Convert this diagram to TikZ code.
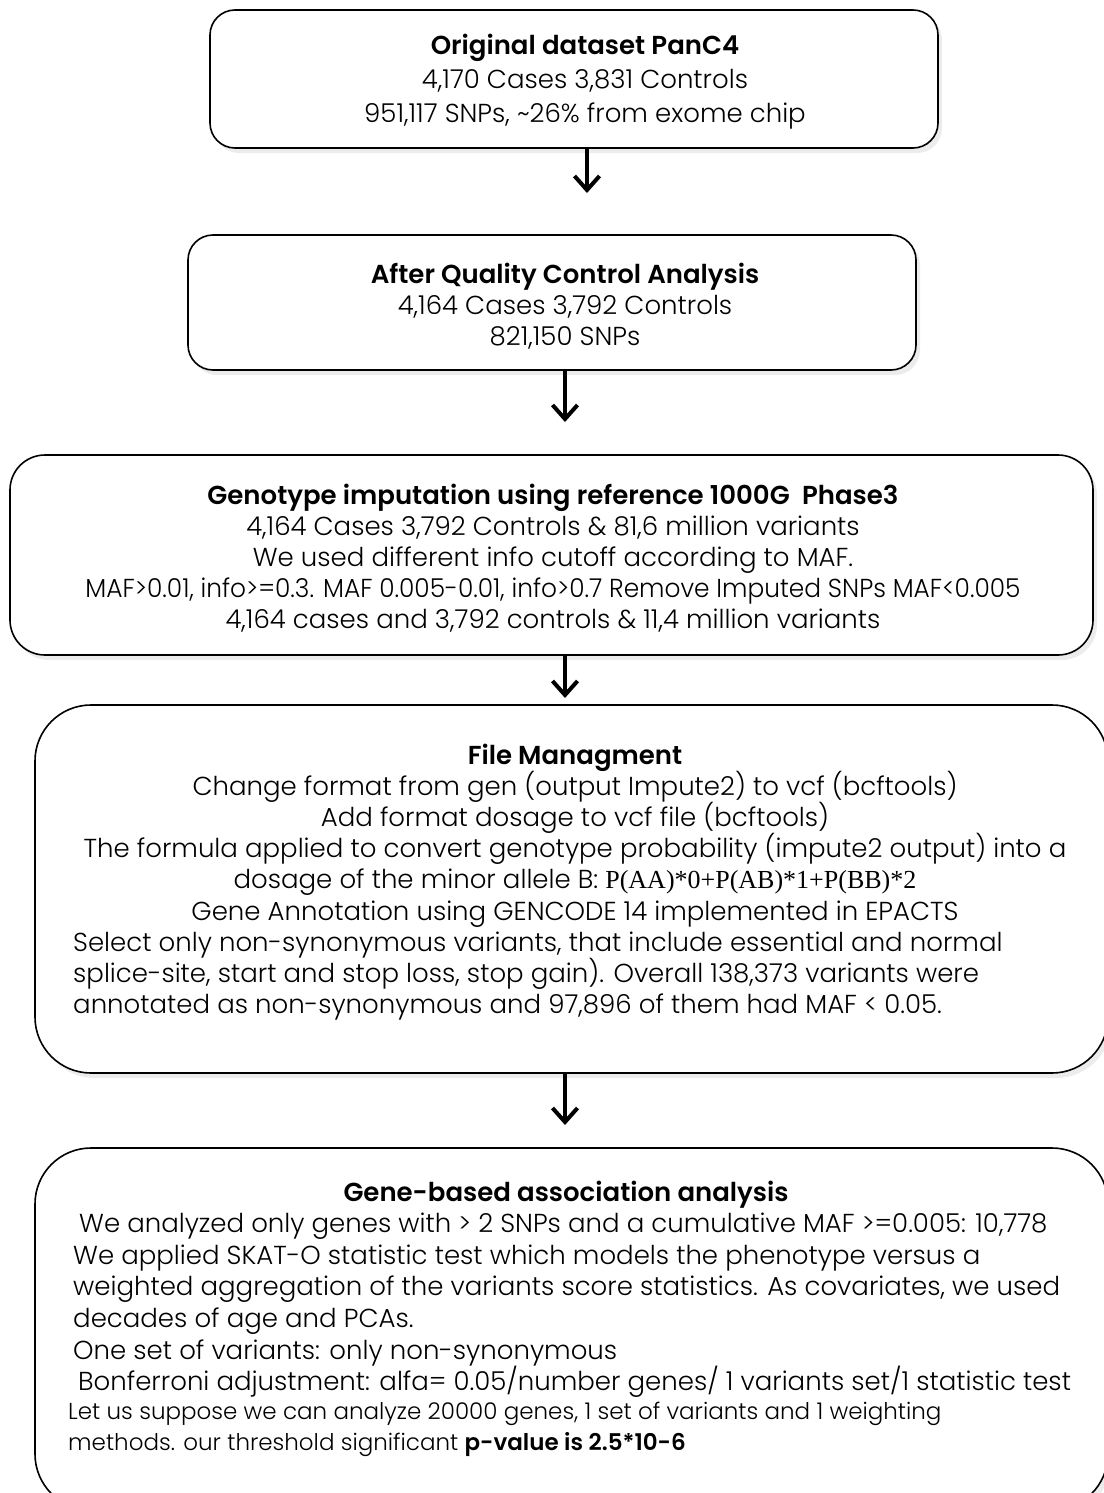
\documentclass[tikz,border=0pt]{standalone}
\usepackage{fontspec}
\setmainfont{Poppins}[UprightFont=* Light, BoldFont=* SemiBold]
\newfontfamily\formulafont{Liberation Serif}
\usetikzlibrary{arrows.meta,shadows}
\setlength{\lineskiplimit}{-40pt}
\begin{document}
\begin{tikzpicture}[x=1pt, y=-1pt, >={Straight Barb[length=14pt,width=25pt]}, font=\fontsize{26}{31.1}\selectfont]
        \tikzset{box/.style={draw, line width=1.6pt, fill=white, drop shadow={shadow xshift=4pt, shadow yshift=-5pt, opacity=0.15}},
                 txt/.style={inner sep=0pt, anchor=north, align=center},
                 ltxt/.style={inner sep=0pt, anchor=north west, align=left},
                 small/.style={font=\fontsize{23}{31}\selectfont},
                 flow/.style={->, line width=4pt}}
        \useasboundingbox (0,0) rectangle (1103,1493);
        % boxes
        \node[box, rounded corners=25pt, minimum width=728pt, minimum height=138pt] (orig) at (574,79) {};
        \node[box, rounded corners=25pt, minimum width=728pt, minimum height=135pt] (qc) at (552,302.5) {};
        \node[box, rounded corners=35pt, minimum width=1083pt, minimum height=200pt] (imput) at (551.5,555) {};
        \node[box, rounded corners=56pt, minimum width=1073pt, minimum height=368pt] (files) at (571.5,889) {};
        \node[box, rounded corners=56pt, minimum width=1073pt, minimum height=362pt] (gene) at (571.5,1329) {};
        % texts
        \node[txt, font=\fontsize{26}{34}\selectfont] (orig-txt) at (585,34) {\textbf{Original dataset PanC4}\\4,170 Cases 3,831 Controls\\951,117 SNPs, \textasciitilde26\% from exome chip};
        \node[txt] (qc-txt) at (565,263) {\textbf{After Quality Control Analysis}\\4,164 Cases 3,792 Controls\\821,150 SNPs};
        \node[txt] (imput-txt) at (553,484) {\textbf{Genotype imputation using reference 1000G\ \ Phase3}\\4,164 Cases 3,792 Controls \& 81,6 million variants\\We used different info cutoff according to MAF.\\\resizebox{935pt}{\height}{MAF>0.01, info>=0.3. MAF 0.005-0.01, info>0.7 Remove Imputed SNPs MAF<0.005}\\4,164 cases and 3,792 controls \& 11,4 million variants};
        \node[txt] (files-txt) at (575,744) {\textbf{File Managment}\\Change format from gen (output Impute2) to vcf (bcftools)\\Add format dosage to vcf file (bcftools)\\The formula applied to convert genotype probability (impute2 output) into a\\dosage of the minor allele B: {\formulafont P(AA)*0+P(AB)*1+P(BB)*2}\\Gene Annotation using GENCODE 14 implemented in EPACTS};
        \node[ltxt] (files-sel) at (73,932) {Select only non-synonymous variants, that include essential and normal\\splice-site, start and stop loss, stop gain). Overall 138,373 variants were\\annotated as non-synonymous and 97,896 of them had MAF < 0.05.};
        \node[txt] (gene-txt) at (566,1181) {\textbf{Gene-based association analysis}};
        \node[ltxt, font=\fontsize{26}{31.6}\selectfont] (gene-desc) at (73,1213) {\hspace{6pt}We analyzed only genes with > 2 SNPs and a cumulative MAF >=0.005: 10,778\\We applied SKAT-O statistic test which models the phenotype versus a\\weighted aggregation of the variants score statistics. As covariates, we used\\decades of age and PCAs.\\One set of variants: only non-synonymous\\\hspace{5pt}Bonferroni adjustment: alfa= 0.05/number genes/ 1 variants set/1 statistic test};
        \node[ltxt, small] (gene-thr) at (68,1402) {Let us suppose we can analyze 20000 genes, 1 set of variants and 1 weighting\\methods. our threshold significant \textbf{p-value is 2.5*10-6}};
        % arrows
        \coordinate (a1) at (587,193);
        \coordinate (a2) at (565,422);
        \coordinate (a3) at (565,698);
        \coordinate (a4) at (565,1125);
        \draw[flow] (orig.south -| a1) -- (a1);
        \draw[flow] (qc.south -| a2) -- (a2);
        \draw[flow] (imput.south -| a3) -- (a3);
        \draw[flow] (files.south -| a4) -- (a4);
\end{tikzpicture}
\end{document}
